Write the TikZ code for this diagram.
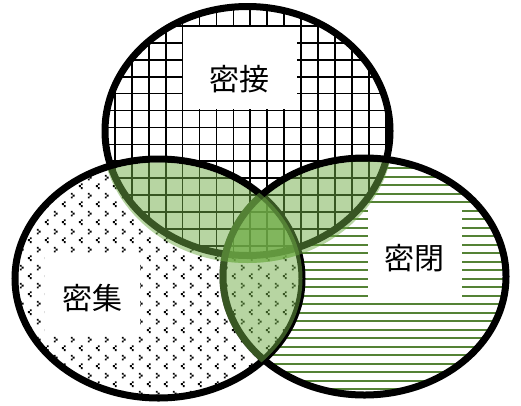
\documentclass[tikz,border=0pt]{standalone}
\usepackage{fontspec}
\newfontfamily\jp{Noto Sans CJK JP}
\usetikzlibrary{patterns}
\definecolor{lensgreen}{HTML}{70AD47}
\definecolor{linegreen}{HTML}{548235}
\pgfdeclarepatternformonly{divot}{\pgfpointorigin}{\pgfpoint{17pt}{18pt}}{\pgfpoint{17pt}{18pt}}{%
  \pgfpathrectangle{\pgfpoint{3pt}{14pt}}{\pgfpoint{2pt}{2pt}}%
  \pgfpathrectangle{\pgfpoint{5pt}{12pt}}{\pgfpoint{2pt}{2pt}}%
  \pgfpathrectangle{\pgfpoint{3pt}{10pt}}{\pgfpoint{2pt}{2pt}}%
  \pgfpathrectangle{\pgfpoint{13.5pt}{5pt}}{\pgfpoint{2pt}{2pt}}%
  \pgfpathrectangle{\pgfpoint{11.5pt}{3pt}}{\pgfpoint{2pt}{2pt}}%
  \pgfpathrectangle{\pgfpoint{13.5pt}{1pt}}{\pgfpoint{2pt}{2pt}}%
  \pgfusepath{fill}%
}
\tikzset{
  outline/.style={draw=black, line width=7pt},
  lens/.style={fill=lensgreen, fill opacity=0.5},
  labelbox/.style={fill=white, draw=none},
  label/.style={font=\jp\fontsize{30}{30}\selectfont, inner sep=0pt},
}
\begin{document}
\begin{tikzpicture}[x=1pt, y=-1pt]
\useasboundingbox (0,0) rectangle (521,405);
% right ellipse: white + green lines
\begin{scope}
  \clip (364.5,276.5) ellipse [x radius=141.5pt, y radius=118.5pt];
  \fill[white] (200,150) rectangle (521,405);
  \foreach \k in {0,...,28} {
    \draw[linegreen, line width=1.8pt] (215,159.7+8.5*\k) -- (515,159.7+8.5*\k);
  }
\end{scope}
% left ellipse: white + chevron pattern
\begin{scope}
  \clip (158.5,278.5) ellipse [x radius=143.5pt, y radius=119.5pt];
  \fill[white] (0,150) rectangle (310,405);
  \fill[pattern=divot, pattern color=black] (0,150) rectangle (310,405);
\end{scope}
% top ellipse: white + grid
\begin{scope}
  \clip (247.5,131) ellipse [x radius=142.5pt, y radius=124.5pt];
  \fill[white] (100,0) rectangle (395,260);
  \foreach \k in {5,...,23} {
    \draw[black, line width=1.8pt] (13.05+16.95*\k,0) -- (13.05+16.95*\k,265);
  }
  \foreach \k in {0,...,15} {
    \draw[black, line width=1.8pt] (95,8.8+16.95*\k) -- (400,8.8+16.95*\k);
  }
\end{scope}
% label boxes
\fill[labelbox] (182.5,27) rectangle (296.5,109);
\fill[labelbox] (45,254) rectangle (140,336);
\fill[labelbox] (368,204) rectangle (462,300);
\node[label] (ltop) at (239,79) {密接};
\node[label] (lleft) at (92.5,298) {密集};
\node[label] (lright) at (414.5,258.5) {密閉};
% outlines
\draw[outline] (364.5,276.5) ellipse [x radius=141.5pt, y radius=118.5pt];
\draw[outline] (158.5,278.5) ellipse [x radius=143.5pt, y radius=119.5pt];
\draw[outline] (247.5,131) ellipse [x radius=142.5pt, y radius=124.5pt];
% lenses
\begin{scope}
  \clip (158.5,278.5) ellipse [x radius=140pt, y radius=116pt];
  \fill[lens] (247.5,133) ellipse [x radius=146pt, y radius=130pt];
\end{scope}
\begin{scope}
  \clip (364.5,276.5) ellipse [x radius=138pt, y radius=115pt];
  \fill[lens] (247.5,133) ellipse [x radius=146pt, y radius=130pt];
\end{scope}
\begin{scope}
  \clip (158.5,278.5) ellipse [x radius=144pt, y radius=120pt];
  \fill[lens] (364.5,276.5) ellipse [x radius=145pt, y radius=122pt];
\end{scope}
\end{tikzpicture}
\end{document}
